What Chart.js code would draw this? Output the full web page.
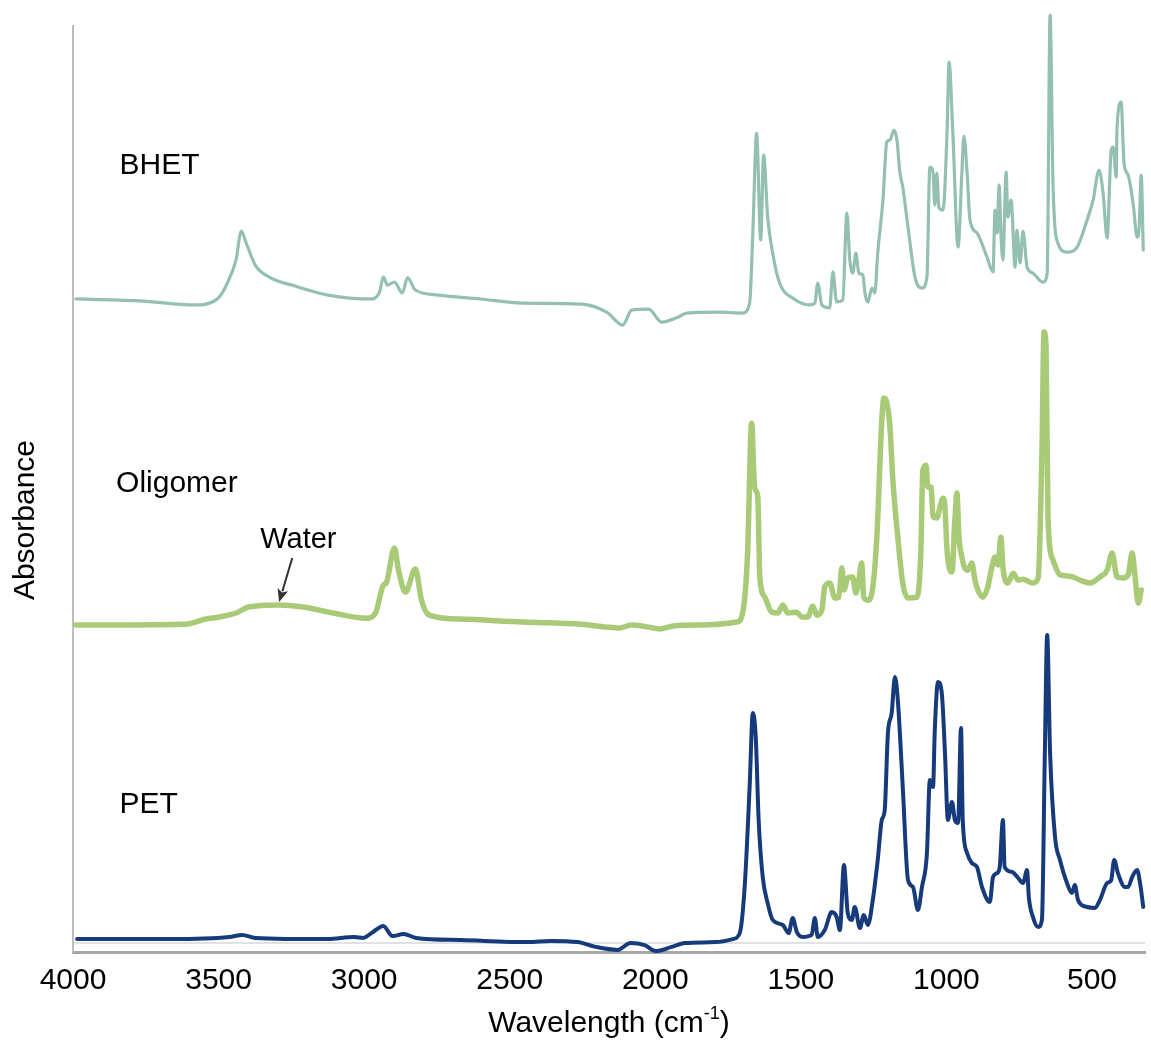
<!DOCTYPE html>
<html>
<head>
<meta charset="utf-8">
<script src="https://cdn.jsdelivr.net/npm/chart.js@4.4.0/dist/chart.umd.min.js"></script>
<style>
  html, body { margin: 0; padding: 0; background: #fff; }
  #wrap { width: 1151px; height: 1045px; position: relative; }
</style>
</head>
<body>
<div id="wrap"><canvas id="ftirChart"></canvas></div>
<script>
// x ticks (wavenumber, cm-1), axis runs high -> low
const xTicks = [4000, 3500, 3000, 2500, 2000, 1500, 1000, 500];

const seriesNames = ['BHET', 'Oligomer', 'PET'];
const seriesColors = ['#94c0b1', '#a9cb78', '#163a7a'];
const seriesWidths = [3.2, 5.5, 4];
// vertical stacking of the spectra
const seriesOffsets = [2.08, 1.03, 0];

// [wavenumber, absorbance]
const bhetPoints = [
  [3990, 0.067], [3759, 0.060], [3584, 0.047], [3543, 0.050], [3498, 0.073], [3470, 0.120],
  [3440, 0.197], [3422, 0.293], [3405, 0.253], [3374, 0.180], [3326, 0.140], [3237, 0.110],
  [3123, 0.080], [2979, 0.067], [2948, 0.087], [2934, 0.140], [2920, 0.113], [2896, 0.123],
  [2869, 0.087], [2851, 0.137], [2824, 0.097], [2745, 0.080], [2600, 0.067], [2456, 0.053],
  [2253, 0.050], [2167, 0.023], [2112, -0.020], [2081, 0.030], [2023, 0.033], [1978, -0.010],
  [1920, 0.007], [1892, 0.020], [1779, 0.023], [1700, 0.020], [1676, 0.053], [1665, 0.287],
  [1652, 0.620], [1638, 0.263], [1628, 0.547], [1614, 0.340], [1597, 0.220], [1573, 0.120],
  [1528, 0.070], [1469, 0.047], [1452, 0.053], [1442, 0.120], [1428, 0.047], [1401, 0.037],
  [1390, 0.157], [1377, 0.057], [1356, 0.063], [1342, 0.353], [1332, 0.197], [1322, 0.153],
  [1311, 0.220], [1301, 0.153], [1287, 0.147], [1280, 0.087], [1270, 0.057], [1256, 0.103],
  [1246, 0.087], [1236, 0.220], [1218, 0.397], [1205, 0.590], [1194, 0.597], [1180, 0.630],
  [1170, 0.597], [1160, 0.490], [1150, 0.440], [1132, 0.307], [1108, 0.140], [1084, 0.103],
  [1067, 0.140], [1057, 0.507], [1046, 0.490], [1040, 0.380], [1033, 0.487], [1026, 0.373],
  [1012, 0.363], [998, 0.620], [991, 0.857], [978, 0.620], [960, 0.240], [947, 0.487],
  [940, 0.610], [929, 0.487], [919, 0.330], [895, 0.287], [861, 0.207], [840, 0.157],
  [833, 0.363], [826, 0.287], [819, 0.447], [813, 0.287], [806, 0.197], [795, 0.490],
  [789, 0.340], [778, 0.397], [764, 0.173], [758, 0.297], [747, 0.187], [737, 0.293],
  [723, 0.173], [703, 0.153], [668, 0.123], [654, 0.153], [644, 1.013], [634, 0.453],
  [617, 0.253], [586, 0.223], [551, 0.240], [517, 0.330], [496, 0.397], [476, 0.497],
  [462, 0.420], [448, 0.270], [434, 0.563], [427, 0.573], [417, 0.473], [414, 0.640],
  [400, 0.723], [390, 0.520], [376, 0.480], [359, 0.387], [345, 0.273], [338, 0.307],
  [331, 0.480], [324, 0.230]
];

const oligomerPoints = [
  [3990, 0.030], [3615, 0.033], [3543, 0.050], [3498, 0.057], [3440, 0.070], [3398, 0.090],
  [3295, 0.097], [3209, 0.090], [3106, 0.070], [2992, 0.053], [2961, 0.070], [2934, 0.163],
  [2924, 0.170], [2896, 0.287], [2882, 0.213], [2858, 0.140], [2824, 0.217], [2803, 0.113],
  [2776, 0.063], [2673, 0.050], [2456, 0.040], [2253, 0.033], [2167, 0.023], [2123, 0.020],
  [2081, 0.030], [2023, 0.023], [1985, 0.017], [1937, 0.027], [1848, 0.030], [1720, 0.040],
  [1700, 0.070], [1683, 0.270], [1669, 0.703], [1659, 0.490], [1648, 0.457], [1641, 0.190],
  [1624, 0.123], [1600, 0.073], [1579, 0.070], [1562, 0.097], [1545, 0.070], [1514, 0.073],
  [1497, 0.057], [1476, 0.057], [1459, 0.093], [1445, 0.063], [1428, 0.080], [1418, 0.157],
  [1401, 0.170], [1383, 0.120], [1370, 0.123], [1359, 0.220], [1352, 0.147], [1339, 0.187],
  [1322, 0.190], [1311, 0.137], [1301, 0.180], [1291, 0.237], [1284, 0.123], [1270, 0.113],
  [1256, 0.137], [1239, 0.323], [1222, 0.713], [1215, 0.787], [1205, 0.773], [1194, 0.690],
  [1184, 0.513], [1167, 0.323], [1150, 0.170], [1132, 0.120], [1101, 0.123], [1088, 0.270],
  [1081, 0.547], [1070, 0.563], [1064, 0.490], [1053, 0.490], [1046, 0.390], [1033, 0.387],
  [1022, 0.423], [1012, 0.453], [1005, 0.423], [998, 0.280], [981, 0.207], [971, 0.380],
  [964, 0.470], [957, 0.323], [947, 0.257], [937, 0.220], [926, 0.213], [913, 0.237],
  [902, 0.180], [892, 0.147], [875, 0.123], [858, 0.157], [844, 0.223], [833, 0.257],
  [823, 0.230], [813, 0.323], [806, 0.223], [789, 0.170], [771, 0.203], [754, 0.180],
  [737, 0.183], [703, 0.170], [685, 0.187], [672, 0.603], [665, 1.007], [658, 0.960],
  [651, 0.380], [634, 0.247], [610, 0.197], [575, 0.193], [541, 0.180], [507, 0.170],
  [473, 0.190], [448, 0.213], [431, 0.270], [414, 0.190], [393, 0.187], [376, 0.197],
  [362, 0.270], [352, 0.190], [341, 0.103], [331, 0.147]
];

const petPoints = [
  [3986, 0.013], [3663, 0.013], [3463, 0.020], [3419, 0.027], [3374, 0.017], [3126, 0.013],
  [3034, 0.020], [3003, 0.017], [2975, 0.033], [2934, 0.057], [2903, 0.023], [2865, 0.030],
  [2821, 0.017], [2666, 0.010], [2436, 0.003], [2360, 0.007], [2267, 0.003], [2205, -0.013],
  [2130, -0.023], [2085, 0.000], [2037, -0.007], [1999, -0.027], [1944, -0.013], [1899, 0.000],
  [1793, 0.003], [1734, 0.013], [1710, 0.033], [1693, 0.187], [1676, 0.520], [1665, 0.767],
  [1655, 0.687], [1645, 0.410], [1631, 0.220], [1614, 0.133], [1597, 0.077], [1562, 0.060],
  [1542, 0.033], [1528, 0.083], [1514, 0.037], [1494, 0.020], [1463, 0.027], [1452, 0.083],
  [1442, 0.020], [1418, 0.043], [1394, 0.103], [1377, 0.087], [1366, 0.043], [1352, 0.260],
  [1339, 0.100], [1325, 0.077], [1315, 0.120], [1297, 0.050], [1284, 0.093], [1270, 0.060],
  [1253, 0.143], [1236, 0.277], [1222, 0.410], [1212, 0.443], [1201, 0.700], [1188, 0.767],
  [1177, 0.887], [1167, 0.810], [1150, 0.520], [1132, 0.210], [1115, 0.187], [1098, 0.110],
  [1084, 0.187], [1067, 0.300], [1057, 0.543], [1046, 0.520], [1040, 0.710], [1029, 0.870],
  [1016, 0.833], [1005, 0.633], [995, 0.410], [981, 0.470], [971, 0.410], [960, 0.400],
  [950, 0.717], [944, 0.410], [929, 0.300], [913, 0.267], [895, 0.253], [878, 0.187],
  [851, 0.137], [840, 0.220], [826, 0.233], [817, 0.253], [806, 0.410], [800, 0.253],
  [775, 0.237], [754, 0.217], [737, 0.200], [723, 0.243], [717, 0.153], [703, 0.087],
  [685, 0.053], [672, 0.077], [662, 0.633], [654, 1.027], [644, 0.633], [627, 0.353],
  [610, 0.277], [586, 0.200], [569, 0.167], [559, 0.193], [548, 0.143], [517, 0.120],
  [490, 0.117], [473, 0.143], [448, 0.200], [434, 0.210], [424, 0.277], [411, 0.233],
  [387, 0.187], [376, 0.187], [362, 0.220], [345, 0.243], [335, 0.200], [324, 0.120]
];

const seriesPoints = [bhetPoints, oligomerPoints, petPoints];

// text annotations: [wavenumber, stacked level]
const nameAnchors = [[3840, 2.59], [3852, 1.53], [3840, 0.46]];
const waterText = 'Water';
const waterAnchor = [3226, 1.343];
const waterArrow = [[3247, 1.283], [3292, 1.137]];

const FONT = '"Liberation Sans", Arial, Helvetica, sans-serif';

const datasets = seriesPoints.map((pts, i) => ({
  label: seriesNames[i],
  data: pts.map(p => ({ x: p[0], y: p[1] + seriesOffsets[i] })),
  borderColor: seriesColors[i],
  borderWidth: seriesWidths[i],
  pointRadius: 0,
  fill: false,
  clip: false,
  cubicInterpolationMode: 'monotone',
  borderJoinStyle: 'round',
  borderCapStyle: 'round'
}));

const annotationPlugin = {
  id: 'spectrumText',
  afterDraw(chart) {
    const ctx = chart.ctx;
    const xs = chart.scales.x;
    const ys = chart.scales.y;
    const area = chart.chartArea;
    ctx.save();
    ctx.fillStyle = '#000';
    ctx.font = '30px ' + FONT;
    ctx.textBaseline = 'middle';
    ctx.textAlign = 'left';
    seriesNames.forEach((name, i) => {
      ctx.fillText(name, xs.getPixelForValue(nameAnchors[i][0]), ys.getPixelForValue(nameAnchors[i][1]));
    });

    // Water + arrow
    ctx.font = '29px ' + FONT;
    ctx.textAlign = 'center';
    ctx.fillText(waterText, xs.getPixelForValue(waterAnchor[0]), ys.getPixelForValue(waterAnchor[1]));
    const x0 = xs.getPixelForValue(waterArrow[0][0]), y0 = ys.getPixelForValue(waterArrow[0][1]);
    const x1 = xs.getPixelForValue(waterArrow[1][0]), y1 = ys.getPixelForValue(waterArrow[1][1]);
    const ang = Math.atan2(y1 - y0, x1 - x0);
    const head = 14;
    ctx.strokeStyle = '#333';
    ctx.fillStyle = '#333';
    ctx.lineWidth = 2;
    ctx.beginPath();
    ctx.moveTo(x0, y0);
    ctx.lineTo(x1 - Math.cos(ang) * head * 0.8, y1 - Math.sin(ang) * head * 0.8);
    ctx.stroke();
    ctx.beginPath();
    ctx.moveTo(x1, y1);
    ctx.lineTo(x1 - head * Math.cos(ang - 0.4), y1 - head * Math.sin(ang - 0.4));
    ctx.lineTo(x1 - head * 0.7 * Math.cos(ang), y1 - head * 0.7 * Math.sin(ang));
    ctx.lineTo(x1 - head * Math.cos(ang + 0.4), y1 - head * Math.sin(ang + 0.4));
    ctx.closePath();
    ctx.fill();

    // y title
    ctx.fillStyle = '#000';
    ctx.font = '30px ' + FONT;
    ctx.save();
    ctx.translate(area.left - 47, ys.getPixelForValue(1.41));
    ctx.rotate(-Math.PI / 2);
    ctx.textAlign = 'center';
    ctx.fillText('Absorbance', 0, 0);
    ctx.restore();

    // x title with superscript
    const main1 = 'Wavelength (cm';
    const sup = '-1';
    const main2 = ')';
    ctx.font = '30px ' + FONT;
    const w1 = ctx.measureText(main1).width;
    const w3 = ctx.measureText(main2).width;
    ctx.font = '18px ' + FONT;
    const w2 = ctx.measureText(sup).width;
    const cx = (area.left + area.right) / 2;
    const ty = area.bottom + 72;
    const sx = cx - (w1 + w2 + w3) / 2;
    ctx.textAlign = 'left';
    ctx.font = '30px ' + FONT;
    ctx.fillText(main1, sx, ty);
    ctx.font = '18px ' + FONT;
    ctx.fillText(sup, sx + w1, ty - 10);
    ctx.font = '30px ' + FONT;
    ctx.fillText(main2, sx + w1 + w2, ty);
    ctx.restore();
  }
};

new Chart(document.getElementById('ftirChart').getContext('2d'), {
  type: 'line',
  data: { datasets: datasets },
  plugins: [annotationPlugin],
  options: {
    responsive: true,
    maintainAspectRatio: false,
    animation: false,
    layout: { padding: { top: 26, right: 6, left: 0, bottom: 0 } },
    plugins: {
      legend: { display: false },
      tooltip: { enabled: false }
    },
    scales: {
      x: {
        type: 'linear',
        reverse: true,
        min: 318,
        max: 4000,
        afterBuildTicks: scale => { scale.ticks = xTicks.map(v => ({ value: v })); },
        afterFit: scale => { scale.height = 93; },
        grid: { display: false, drawTicks: false },
        border: { display: true, color: '#a8a8a8', width: 3 },
        ticks: {
          color: '#000',
          font: { family: FONT, size: 30 },
          padding: 11,
          maxRotation: 0,
          autoSkip: false,
          callback: v => String(v)
        }
      },
      y: {
        type: 'linear',
        min: -0.03,
        max: 3.057,
        afterBuildTicks: scale => { scale.ticks = [{ value: 0 }]; },
        afterFit: scale => { scale.width = 73; },
        grid: { color: '#e2e2e2', lineWidth: 2, drawTicks: false },
        border: { display: true, color: '#bdbdbd', width: 2 },
        ticks: { display: false }
      }
    }
  }
});
</script>
</body>
</html>
